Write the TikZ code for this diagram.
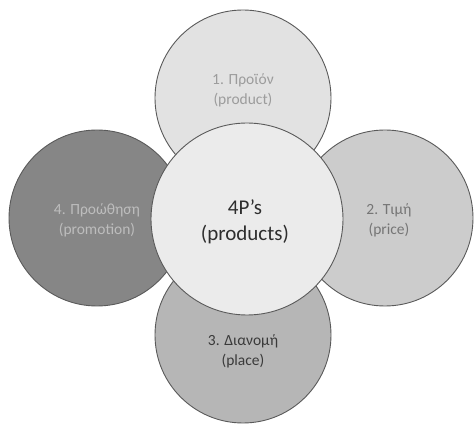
\documentclass[tikz,border=0pt]{standalone}
\usepackage{fontspec}
\setmainfont{Carlito}
\definecolor{ringline}{HTML}{5A5A5A}
\definecolor{fillA}{HTML}{E2E2E2}
\definecolor{fillB}{HTML}{CCCCCC}
\definecolor{fillC}{HTML}{B6B6B6}
\definecolor{fillD}{HTML}{868686}
\definecolor{fillM}{HTML}{EBEBEB}
\definecolor{txtA}{HTML}{9C9C9C}
\definecolor{txtB}{HTML}{757575}
\definecolor{txtC}{HTML}{3A3A3A}
\definecolor{txtD}{HTML}{BDBDBD}
\definecolor{txtM}{HTML}{2E2E2E}
\begin{document}
\begin{tikzpicture}[x=1pt,y=-1pt,
  petal/.style={circle,draw=ringline,line width=0.9pt,minimum size=176pt,inner sep=0pt},
  hub/.style={circle,draw=ringline,line width=0.9pt,minimum size=192pt,inner sep=0pt,fill=fillM},
  ptext/.style={align=center,font=\fontsize{15.5}{20}\selectfont},
  htext/.style={align=center,font=\fontsize{21}{26}\selectfont,text=txtM}]
\useasboundingbox (0,0) rectangle (475,425);
\fill[white] (0,0) rectangle (475,425);
\node[petal,fill=fillD] (left) at (97,218) {};
\node[petal,fill=fillB] (right) at (385,218) {};
\node[petal,fill=fillA] (top) at (243,98) {};
\node[petal,fill=fillC] (bottom) at (243,335) {};
\node[hub] (hub) at (247,219) {};
\node[ptext,text=txtA] (toptxt) at (243,90) {1. Προϊόν\\(product)};
\node[ptext,text=txtB] (righttxt) at (389,220) {2. Τιμή\\(price)};
\node[ptext,text=txtC] (bottomtxt) at (243,351) {3. Διανομή\\(place)};
\node[ptext,text=txtD] (lefttxt) at (97,220) {4. Προώθηση\\(promotion)};
\node[htext] (hubtxt) at (245,222) {4P’s\\(products)};
\end{tikzpicture}
\end{document}
